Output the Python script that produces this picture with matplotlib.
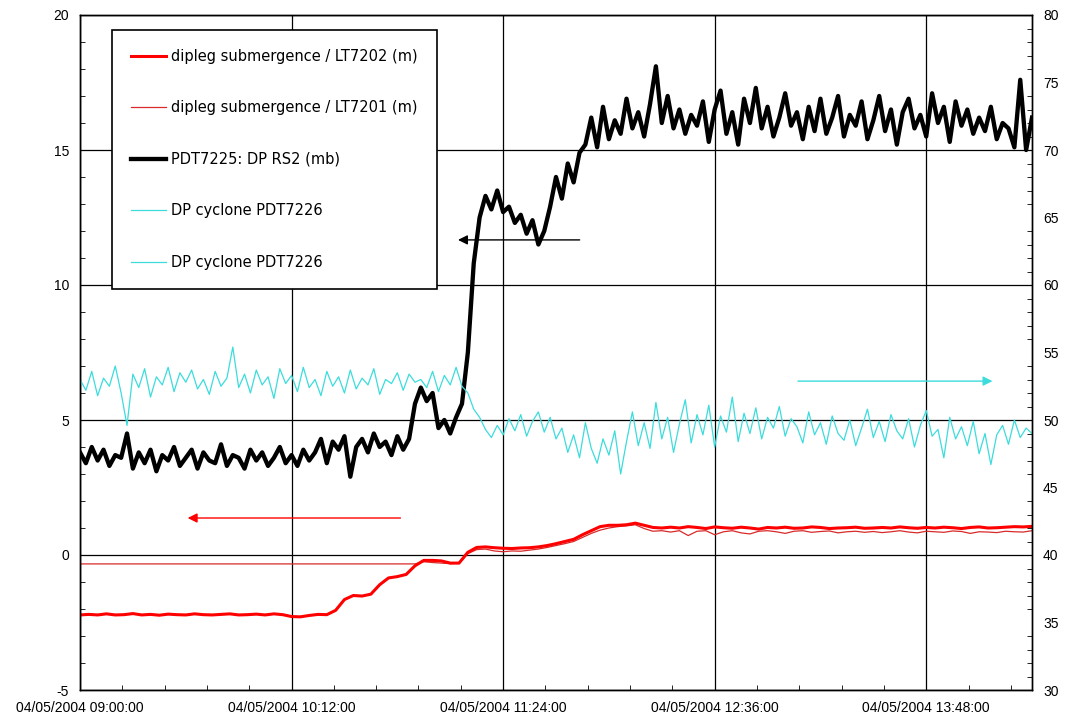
# coding: utf-8

"""Dipleg submergence and pressure drops, 04/05/2004 09:00 - 14:24."""

import numpy as np
import matplotlib.pyplot as plt
from matplotlib.lines import Line2D
from matplotlib.ticker import FixedLocator, MultipleLocator

# x positions in minutes after 04/05/2004 09:00:00
tick_minutes = [0, 72, 144, 216, 288]
tick_labels = ['04/05/2004 09:00:00', '04/05/2004 10:12:00', '04/05/2004 11:24:00',
               '04/05/2004 12:36:00', '04/05/2004 13:48:00']

# PDT7225: DP RS2 (mb), left axis, every 2 min
t_fast = np.arange(0, 325, 2)
dp_rs2 = [
    3.8, 3.4, 4.0, 3.5, 3.9, 3.3, 3.7, 3.6, 4.5, 3.2, 3.8, 3.4, 3.9, 3.1, 3.7, 3.5, 4.0, 3.3,
    3.6, 3.9, 3.2, 3.8, 3.5, 3.4, 4.1, 3.3, 3.7, 3.6, 3.2, 3.9, 3.5, 3.8, 3.3, 3.6, 4.0, 3.4,
    3.7, 3.3, 3.9, 3.5, 3.8, 4.3, 3.4, 4.2, 3.9, 4.4, 2.9, 4.0, 4.3, 3.8, 4.5, 4.0, 4.2, 3.7,
    4.4, 3.9,
    4.3, 5.6, 6.2, 5.7, 6.0, 4.7, 5.0, 4.5, 5.1, 5.6,
    7.5, 10.8, 12.5, 13.3, 12.8, 13.5, 12.7, 12.9, 12.3, 12.6, 11.9, 12.4, 11.5, 12.0, 12.9, 14.0,
    13.2, 14.5, 13.8, 14.9, 15.2, 16.2, 15.1, 16.6, 15.4, 16.1, 15.6, 16.9, 15.8, 16.4, 15.5, 16.7,
    18.1, 16.0, 17.0, 15.8, 16.5, 15.6, 16.3, 15.9, 16.8, 15.3, 16.5, 17.2, 15.6, 16.4, 15.2, 16.9,
    16.0, 17.3, 15.8, 16.6, 15.5, 16.2, 17.1, 15.9, 16.4, 15.4, 16.6, 15.7, 16.9, 15.6, 16.2, 17.0,
    15.5, 16.3, 15.9, 16.8, 15.4, 16.1, 17.0, 15.7, 16.5, 15.2, 16.4, 16.9, 15.8, 16.3, 15.5, 17.1,
    16.0, 16.6, 15.3, 16.8, 15.9, 16.5, 15.6, 16.2, 15.7, 16.6, 15.4, 16.0, 15.8, 15.1, 17.6, 15.0,
    16.2,
]

# DP cyclone PDT7226, right axis, every 2 min
dp_cyclone = [
    53.0, 52.2, 53.6, 51.8, 53.1, 52.5, 54.0, 52.0, 49.6, 53.4, 52.4, 53.8, 51.7, 53.2, 52.6, 53.9,
    52.1, 53.5, 52.8, 53.7, 52.3, 53.0, 51.9, 53.6, 52.5, 53.1, 55.4, 52.4, 53.4, 52.0, 53.7, 52.6,
    53.2, 51.6, 53.8, 52.7,
    53.3, 52.1, 53.9, 52.4, 53.0, 51.8, 53.6, 52.5, 53.2, 52.0, 53.7, 52.3, 53.1, 52.6, 53.8, 51.9,
    53.0, 52.7, 53.5, 52.2, 53.4, 52.8, 53.0, 52.4, 53.6, 52.1, 53.3, 52.6, 53.9, 52.5,
    52.0, 50.8, 50.2, 49.3, 48.7, 49.6, 48.9, 50.1, 49.2, 50.4, 48.8, 49.9, 50.6, 49.1, 50.2, 48.6,
    49.4, 47.6, 48.9, 47.2, 49.8, 47.9, 46.8, 48.6, 47.4, 49.2, 46.0,
    48.4, 50.6, 48.1, 49.8, 47.9, 51.3, 48.6, 50.2, 47.6, 49.7, 51.5, 48.3, 50.4, 48.9, 51.1, 48.0,
    50.3,
    49.1, 51.7, 48.4, 50.5, 49.0, 50.9, 48.6, 50.2, 49.4, 51.0, 48.8, 50.1, 49.5, 48.3, 50.6, 48.9,
    49.8, 48.2, 50.3, 49.0, 48.5, 50.0, 48.1, 49.4, 50.8, 48.7, 49.9, 48.4, 50.4, 49.2, 48.6, 50.1,
    48.0, 49.6, 50.7, 48.8, 49.3, 47.2, 50.2, 48.6, 49.5, 48.1, 49.9, 47.5, 49.0, 46.7, 48.9, 49.6,
    48.2, 50.0, 48.7, 49.4, 49.0,
]

# dipleg submergence / LT7202 (m), every 3 min
t_slow = np.arange(0, 325, 3)
lt7202 = [
    -2.22, -2.20, -2.22, -2.18, -2.22, -2.21, -2.17, -2.22, -2.20, -2.23, -2.19, -2.21,
    -2.22, -2.18, -2.21, -2.22, -2.20, -2.18, -2.22, -2.21, -2.19, -2.22, -2.18, -2.21,
    -2.28, -2.29, -2.24, -2.20, -2.21,
    -2.05, -1.65, -1.50, -1.52, -1.45, -1.10, -0.85, -0.80, -0.72, -0.40,
    -0.20, -0.20, -0.22, -0.30, -0.30, 0.10, 0.28, 0.30, 0.27, 0.25,
    0.24, 0.26, 0.27, 0.30, 0.35, 0.42, 0.50, 0.58, 0.75, 0.90,
    1.05, 1.10, 1.10, 1.12, 1.18, 1.10, 1.02, 1.00, 1.03, 1.00,
    1.05, 1.02, 0.98, 1.04, 1.01, 0.99, 1.03, 1.00, 0.96, 1.02,
    1.00, 1.03, 0.99, 1.00, 1.04, 1.02, 0.98, 1.00, 1.01, 1.03,
    0.99, 1.00, 1.02, 1.00, 1.04, 1.01, 0.99, 1.02, 1.00, 1.03,
    1.01, 0.98, 1.02, 1.04, 1.00, 1.01, 1.03, 1.05, 1.04, 1.06,
]

# dipleg submergence / LT7201 (m): flat until 10:54, then every 3 min
t_lt7201 = np.r_[0, np.arange(114, 325, 3)]
lt7201 = [
    -0.33, -0.33,
    -0.25, -0.28, -0.30, -0.32, -0.30, 0.05, 0.20, 0.22, 0.15, 0.12,
    0.15, 0.14, 0.18, 0.22, 0.28, 0.35, 0.42, 0.50, 0.65, 0.80,
    0.92, 1.00, 1.05, 1.08, 1.12, 0.98, 0.88, 0.90, 0.85, 0.90,
    0.72, 0.88, 0.90, 0.75, 0.86, 0.90, 0.82, 0.78, 0.88, 0.90,
    0.86, 0.80, 0.88, 0.90, 0.84, 0.87, 0.89, 0.82, 0.86, 0.88,
    0.84, 0.87, 0.83, 0.86, 0.90, 0.85, 0.82, 0.88, 0.86, 0.84,
    0.89, 0.87, 0.80, 0.86, 0.85, 0.83, 0.88, 0.86, 0.85, 0.90,
]

red = '#ff0000'
red_thin = '#d82a2a'
cyan = '#3cdcdc'

plt.rcParams['font.family'] = ['Liberation Sans', 'DejaVu Sans']
plt.rcParams['axes.unicode_minus'] = False

fig = plt.figure(figsize=(10.66, 7.26), dpi=100)
ax = fig.add_axes([80 / 1066, 36 / 726, 952 / 1066, 675 / 726])
ax2 = ax.twinx()

ax.plot(t_lt7201, lt7201, color=red_thin, lw=0.9)
ax.plot(t_slow, lt7202, color=red, lw=2.2)
ax.plot(t_fast, dp_rs2, color='black', lw=3.1)
ax2.plot(t_fast, dp_cyclone, color=cyan, lw=0.9)

ax.set_xlim(0, 324)
ax.set_ylim(-5, 20)
ax2.set_ylim(30, 80)

ax.xaxis.set_major_locator(FixedLocator(tick_minutes))
ax.set_xticklabels(tick_labels)
ax.xaxis.set_minor_locator(MultipleLocator(14.4))
ax.yaxis.set_major_locator(MultipleLocator(5))
ax.yaxis.set_minor_locator(MultipleLocator(1))
ax2.yaxis.set_major_locator(MultipleLocator(5))
ax2.yaxis.set_minor_locator(MultipleLocator(1))

ax.grid(True, which='major', color='black', lw=0.9)
ax.tick_params(which='both', direction='in', labelsize=10, colors='black')
ax.tick_params(which='major', length=0, pad=8)
ax.tick_params(which='minor', length=3.5)
ax2.tick_params(which='both', direction='in', labelsize=10)
ax2.tick_params(which='major', length=0, pad=8)
ax2.tick_params(which='minor', length=3.5)
for s in list(ax.spines.values()) + list(ax2.spines.values()):
    s.set_linewidth(1.0)

# direction arrows
arrow = dict(arrowstyle='-|>', mutation_scale=14, lw=1.0)
ax.annotate('', xy=(127.7, 11.67), xytext=(171, 11.67),
            arrowprops=dict(arrow, color='black'))
ax.annotate('', xy=(311.5, 6.44), xytext=(243.4, 6.44),
            arrowprops=dict(arrow, color=cyan))
ax.annotate('', xy=(35.7, 1.37), xytext=(110, 1.37),
            arrowprops=dict(arrow, color=red))

handles = [
    Line2D([], [], color=red, lw=2.2),
    Line2D([], [], color=red_thin, lw=0.9),
    Line2D([], [], color='black', lw=3.1),
    Line2D([], [], color=cyan, lw=0.9),
    Line2D([], [], color=cyan, lw=0.9),
]
labels = ['dipleg submergence / LT7202 (m)', 'dipleg submergence / LT7201 (m)',
          'PDT7225: DP RS2 (mb)', 'DP cyclone PDT7226', 'DP cyclone PDT7226']
leg = ax2.legend(handles, labels, loc='upper left', bbox_to_anchor=(0.034, 0.978),
                 prop={'family': 'DejaVu Sans', 'size': 10.5}, frameon=True, fancybox=False,
                 edgecolor='black', framealpha=1, labelspacing=2.5, borderpad=1.3,
                 handlelength=2.4, handletextpad=0.35, borderaxespad=0)
leg.get_frame().set_linewidth(1.2)

fig.savefig('out.png', dpi=100)
